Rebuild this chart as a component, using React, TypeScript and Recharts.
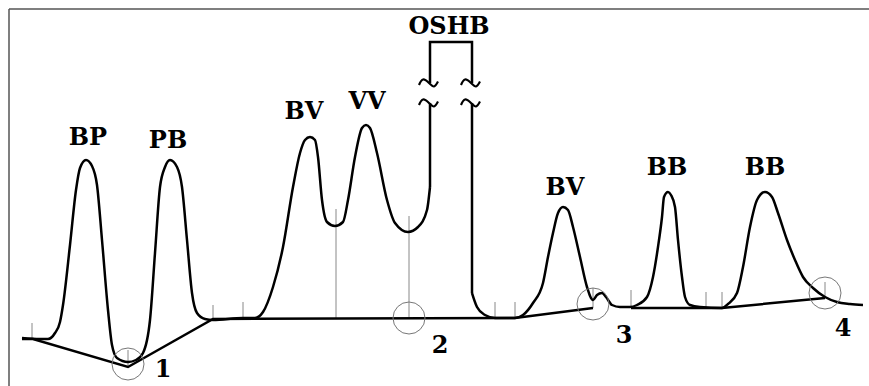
import React from 'react';
import { LineChart, Line, XAxis, YAxis, ReferenceLine, ReferenceDot } from 'recharts';

document.body.style.margin = '0';
document.body.style.overflow = 'hidden';

// detector trace, [time, response]
const traceLeft = [
  [22, 48], [40, 47], [48, 47], [55, 53], [60, 64], [63, 81], [70, 141], [76, 196], [80, 218],
  [86, 226], [92, 220], [97, 201], [102, 146], [108, 76], [112, 41], [117, 28], [128, 24],
  [136, 26], [143, 33], [150, 66], [155, 133], [160, 199], [165, 219], [170, 226], [177, 219],
  [182, 199], [187, 146], [192, 93], [197, 73], [205, 67], [213, 66], [243, 68], [255, 68],
  [263, 74], [273, 99], [283, 139], [293, 199], [300, 233], [305, 246], [310, 249], [315, 246],
  [318, 229], [322, 186], [327, 164], [335, 160], [343, 164], [348, 186], [355, 229], [362, 258],
  [366, 261], [370, 258], [377, 233], [387, 186], [395, 163], [408, 154], [418, 159], [427, 176],
  [430, 199],
];

const traceRight = [
  [472, 93], [477, 79], [485, 71], [495, 68], [515, 68], [523, 71], [533, 83], [543, 103],
  [548, 129], [553, 153], [558, 173], [563, 179], [568, 176], [573, 159], [580, 129], [587, 99],
  [593, 86], [597, 91], [602, 93], [606, 89], [612, 81], [620, 79], [630, 79], [637, 81],
  [647, 89], [653, 109], [658, 139], [662, 169], [664, 189], [668, 194], [671, 191], [675, 179],
  [678, 146], [682, 109], [685, 89], [690, 81], [700, 79], [722, 78], [728, 82], [737, 93],
  [743, 119], [750, 159], [757, 186], [765, 194], [772, 189], [778, 173], [787, 146], [795, 126],
  [803, 109], [813, 98], [825, 89], [837, 84], [850, 82], [863, 81],
];

// off-scale peak (OSHB): risers, bracket and break marks
const riserLeft = [[430, 199], [430, 283]];
const riserRight = [[472, 283], [472, 93]];
const bracket = [[430, 303], [430, 344], [472, 344], [472, 303]];
const breakCenters = [[429, 303], [471, 303], [429, 283], [471, 283]];
const tildeShape = [[-10, -2], [-6, 3.5], [0, 0], [5, -3.5], [9, 1.5]];

// drawn baselines
const baseA = [[22, 47], [33, 47], [128, 19], [213, 67], [515, 68], [593, 78]];
const baseB = [[631, 78], [722, 78], [825, 88]];

// integration marks: time, low, high
const markTime = [32, 128, 213, 243, 336, 409, 495, 515, 593, 631, 706, 722, 825];
const markLow = [48, 20, 67, 68, 68, 68, 68, 68, 78, 79, 78, 78, 88];
const markHigh = [63, 36, 81, 84, 177, 170, 84, 84, 98, 96, 94, 94, 104];

// circled baseline points
const circleTime = [128, 409, 593, 825];
const circleLevel = [22, 68, 82, 93];

// peak labels
const labelText = ['BP', 'PB', 'BV', 'VV', 'OSHB', 'BV', 'BB', 'BB', '1', '2', '3', '4'];
const labelTime = [88, 168, 304, 367, 449, 565, 667, 765, 163, 440, 624, 843];
const labelLevel = [250, 247, 276, 286, 361, 200, 220, 220, 18, 42, 52, 59];

const pts = (a: number[][]) => a.map(([x, y]) => ({ x, y }));

const font = '"DejaVu Serif", serif';

export default function App() {
  return (
    <LineChart width={869} height={386} margin={{ top: 9, right: 0, bottom: 0, left: 9 }}>
      <XAxis dataKey="x" type="number" domain={[9, 869]} hide allowDataOverflow />
      <YAxis type="number" domain={[0, 377]} hide allowDataOverflow />

      {/* frame: top and left edges of the plot */}
      <ReferenceLine y={377} stroke="#555" strokeWidth={1.5} />
      <ReferenceLine x={9} stroke="#555" strokeWidth={1.5} />

      {markTime.map((t, i) => (
        <ReferenceLine key={'m' + i} segment={[{ x: t, y: markLow[i] }, { x: t, y: markHigh[i] }]}
          stroke="#888" strokeWidth={1} />
      ))}
      {circleTime.map((t, i) => (
        <ReferenceDot key={'c' + i} x={t} y={circleLevel[i]} r={16} fill="none" stroke="#777" strokeWidth={1} />
      ))}

      <Line data={pts(baseA)} dataKey="y" type="linear" stroke="#000" strokeWidth={2.5} dot={false} activeDot={false} isAnimationActive={false} />
      <Line data={pts(baseB)} dataKey="y" type="linear" stroke="#000" strokeWidth={2.5} dot={false} activeDot={false} isAnimationActive={false} />
      <Line data={pts(traceLeft)} dataKey="y" type="monotone" stroke="#000" strokeWidth={2.5} dot={false} activeDot={false} isAnimationActive={false} />
      <Line data={pts(traceRight)} dataKey="y" type="monotone" stroke="#000" strokeWidth={2.5} dot={false} activeDot={false} isAnimationActive={false} />
      <Line data={pts(riserLeft)} dataKey="y" type="linear" stroke="#000" strokeWidth={2.5} dot={false} activeDot={false} isAnimationActive={false} />
      <Line data={pts(riserRight)} dataKey="y" type="linear" stroke="#000" strokeWidth={2.5} dot={false} activeDot={false} isAnimationActive={false} />
      <Line data={pts(bracket)} dataKey="y" type="linear" stroke="#000" strokeWidth={2.5} dot={false} activeDot={false} isAnimationActive={false} />
      {breakCenters.map(([cx, cy], i) => (
        <Line key={'b' + i} data={tildeShape.map(([dx, dy]) => ({ x: cx + dx, y: cy + dy }))} dataKey="y"
          type="natural" stroke="#000" strokeWidth={2.2} dot={false} activeDot={false} isAnimationActive={false} />
      ))}

      {labelText.map((s, i) => (
        <ReferenceDot key={'l' + i} x={labelTime[i]} y={labelLevel[i]} r={0}
          shape={(p: any) => (
            <text x={p.cx} y={p.cy} textAnchor="middle" dominantBaseline="central"
              fontFamily={font} fontSize={24} fontWeight="bold" fill="#000">{s}</text>
          )} />
      ))}
    </LineChart>
  );
}
